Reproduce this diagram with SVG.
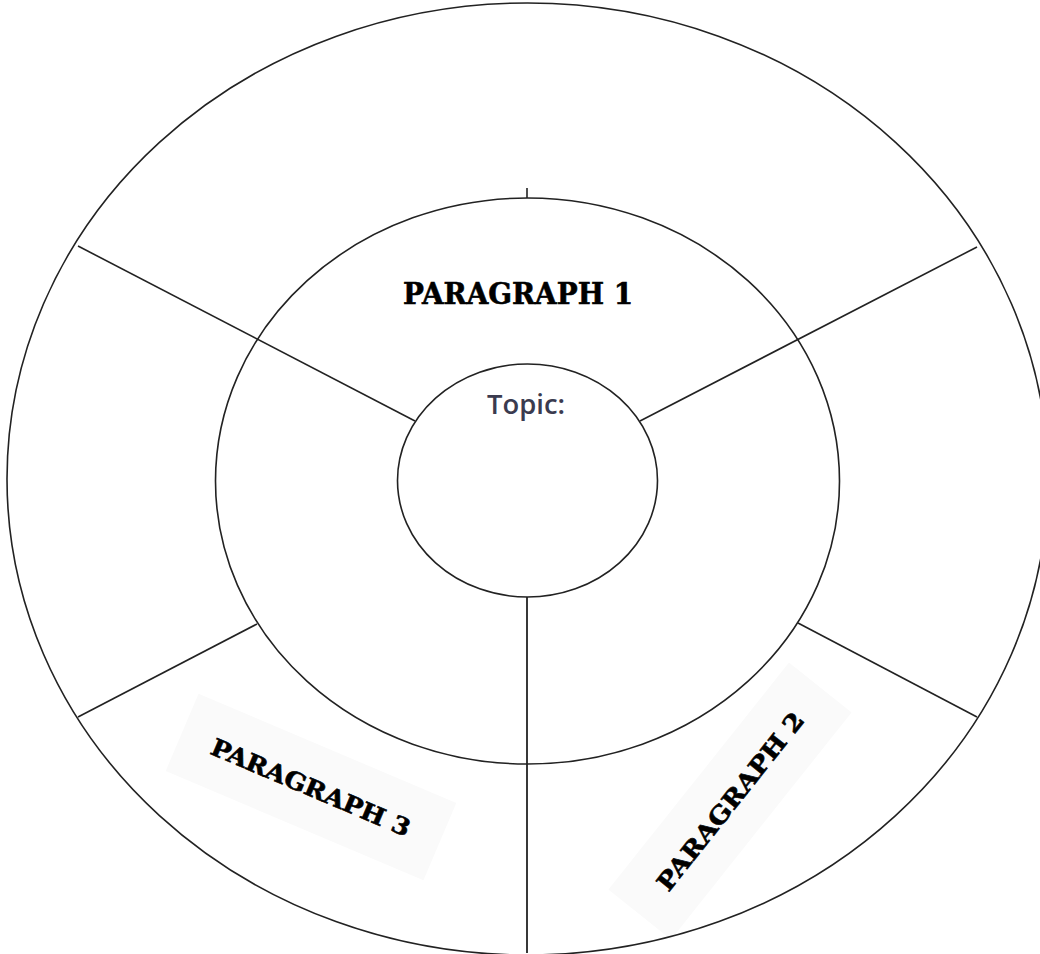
<svg xmlns="http://www.w3.org/2000/svg" width="1040" height="954" viewBox="0 0 1040 954">
<style>
.ln{fill:none;stroke:#222;stroke-width:1.6}
.slab{font-family:"DejaVu Serif","Liberation Serif",serif;font-weight:bold;fill:#000;stroke:#000;stroke-width:0.6}
.topic{font-family:"Open Sans","Noto Sans",sans-serif;font-weight:600;fill:#3b3b4f}
.bg{fill:#fafafa}
</style>
<rect width="1040" height="954" fill="#fff"/>
<g id="paragraph3" transform="translate(311,787) rotate(23)">
<rect class="bg" x="-140" y="-42" width="280" height="84"/>
<text class="slab" x="0" y="9" font-size="24" text-anchor="middle" textLength="214" lengthAdjust="spacingAndGlyphs">PARAGRAPH 3</text>
</g>
<g id="paragraph2" transform="translate(730,801) rotate(-51.5)">
<rect class="bg" x="-145" y="-40" width="290" height="80"/>
<text class="slab" x="0" y="9" font-size="24" text-anchor="middle" textLength="220" lengthAdjust="spacingAndGlyphs">PARAGRAPH 2</text>
</g>
<g id="outer-ring">
<ellipse class="ln" cx="527.5" cy="479" rx="520.5" ry="476"/>
</g>
<g id="middle-ring">
<ellipse class="ln" cx="527.5" cy="481" rx="312" ry="283"/>
</g>
<g id="connectors">
<line class="ln" x1="527" y1="188" x2="527" y2="198"/>
<line class="ln" x1="78" y1="246" x2="415" y2="421"/>
<line class="ln" x1="977" y1="247" x2="640" y2="421"/>
<line class="ln" x1="527" y1="597" x2="527" y2="953" style="stroke-width:1.8"/>
<line class="ln" x1="257" y1="624" x2="78" y2="717"/>
<line class="ln" x1="798" y1="623" x2="977" y2="717"/>
</g>
<g id="topic">
<ellipse class="ln" cx="527.5" cy="480.5" rx="130" ry="116.5" fill="#fff"/>
<text class="topic" x="526" y="414" font-size="27" text-anchor="middle" textLength="78" lengthAdjust="spacingAndGlyphs">Topic:</text>
</g>
<g id="paragraph1">
<text class="slab" x="518" y="304" font-size="29" text-anchor="middle" textLength="230" lengthAdjust="spacingAndGlyphs">PARAGRAPH 1</text>
</g>
</svg>
